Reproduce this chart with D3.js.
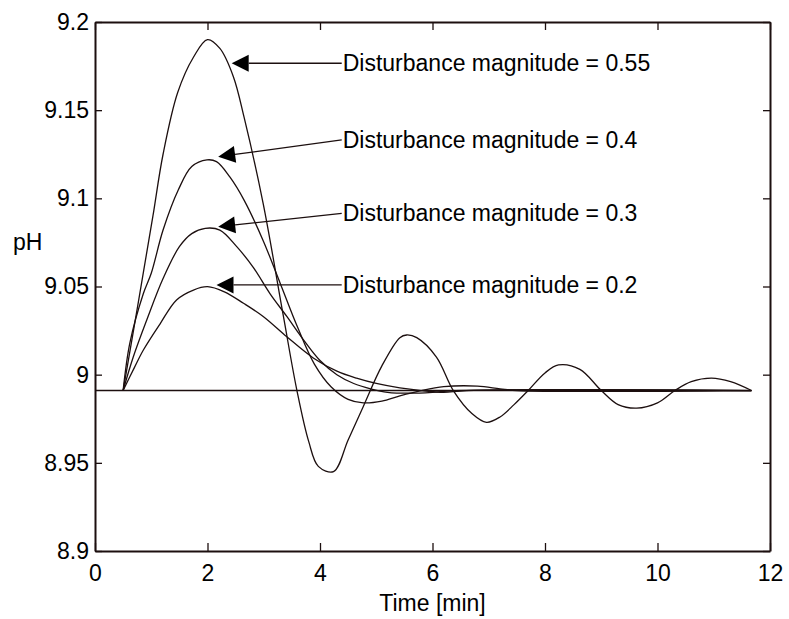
<!DOCTYPE html>
<html>
<head>
<script src="https://cdn.jsdelivr.net/npm/d3@7"></script>
<style>
  body { margin: 0; background: #fff; }
  text { font-family: "Liberation Sans", Arial, sans-serif; }
</style>
</head>
<body>
<div id="chart"></div>
<script>
// pH response for four disturbance magnitudes
var t055  = [0.5, 0.7, 0.86, 1.03, 1.21, 1.47, 1.75, 2.0, 2.22, 2.46, 2.65, 2.99, 3.35, 3.59, 3.8, 3.97, 4.24, 4.5, 4.77, 5.1, 5.42, 5.54, 5.72, 6.07, 6.37, 6.7, 6.96, 7.2, 7.45, 7.7, 8.0, 8.24, 8.62, 9.0, 9.3, 9.63, 10.0, 10.31, 10.6, 10.96, 11.3, 11.67];
var ph055 = [8.991, 9.028, 9.058, 9.09, 9.125, 9.16, 9.18, 9.19, 9.185, 9.169, 9.146, 9.097, 9.033, 8.991, 8.962, 8.948, 8.945, 8.963, 8.982, 9.005, 9.021, 9.0225, 9.021, 9.01, 8.991, 8.978, 8.973, 8.976, 8.983, 8.991, 9.001, 9.0055, 9.003, 8.991, 8.983, 8.981, 8.984, 8.991, 8.996, 8.998, 8.996, 8.991];

var t04  = [0.5, 0.62, 0.86, 1.0, 1.21, 1.48, 1.72, 1.99, 2.16, 2.4, 2.65, 2.99, 3.29, 3.6, 3.9, 4.2, 4.5, 4.77, 5.1, 5.42, 5.8, 6.2, 6.8, 7.2, 7.5, 11.67];
var ph04 = [8.991, 9.018, 9.046, 9.0575, 9.082, 9.1047, 9.118, 9.1218, 9.1208, 9.112, 9.099, 9.076, 9.052, 9.027, 9.006, 8.993, 8.986, 8.984, 8.985, 8.988, 8.991, 8.9932, 8.9935, 8.992, 8.991, 8.991];

var t03  = [0.5, 0.68, 0.92, 1.21, 1.5, 1.72, 1.96, 2.22, 2.52, 2.81, 3.11, 3.41, 3.7, 4.0, 4.3, 4.6, 4.9, 5.2, 5.6, 6.0, 6.4, 11.67];
var ph03 = [8.991, 9.01, 9.031, 9.0545, 9.0726, 9.08, 9.083, 9.082, 9.0726, 9.061, 9.046, 9.033, 9.02, 9.008, 9.0, 8.995, 8.992, 8.990, 8.9895, 8.990, 8.991, 8.991];

var t02  = [0.5, 0.7, 0.86, 1.16, 1.45, 1.75, 2.0, 2.3, 2.64, 2.99, 3.41, 3.88, 4.3, 4.65, 5.0, 5.42, 5.8, 6.2, 6.6, 11.67];
var ph02 = [8.991, 9.004, 9.014, 9.029, 9.0424, 9.048, 9.0499, 9.047, 9.0405, 9.033, 9.0215, 9.0095, 9.002, 8.998, 8.995, 8.9925, 8.991, 8.990, 8.991, 8.991];

var baseT  = [0, 11.67];
var basePH = [8.991, 8.991];

// annotations: arrow tip (t, pH), text start (t, pH)
var labels   = ["Disturbance magnitude = 0.55", "Disturbance magnitude = 0.4", "Disturbance magnitude = 0.3", "Disturbance magnitude = 0.2"];
var tipT     = [2.43, 2.19, 2.19, 2.16];
var tipPH    = [9.1766, 9.1236, 9.0839, 9.0509];
var textT    = [4.386, 4.386, 4.386, 4.386];
var textPH   = [9.1766, 9.1331, 9.0915, 9.0509];

var xTicks = [0, 2, 4, 6, 8, 10, 12];
var yTicks = [8.9, 8.95, 9, 9.05, 9.1, 9.15, 9.2];

var W = 789, H = 619;
var margin = {left: 95, right: 19, top: 22, bottom: 68};
var iw = W - margin.left - margin.right, ih = H - margin.top - margin.bottom;
var ink = "#1c0f0f";

var svg = d3.select("#chart").append("svg")
    .attr("width", W).attr("height", H);

var x = d3.scaleLinear().domain([0, 12]).range([margin.left, margin.left + iw]);
var y = d3.scaleLinear().domain([8.9, 9.2]).range([margin.top + ih, margin.top]);

var fmtY = function(d) { return d3.format("")(+d.toFixed(2)); };

function styleAxis(g) {
    g.selectAll("path.domain").attr("stroke", ink).attr("stroke-width", 2);
    g.selectAll(".tick line").attr("stroke", ink).attr("stroke-width", 1.3);
    g.selectAll("text").attr("fill", "#000").style("font-size", "23px");
}

svg.append("g").attr("transform", "translate(0," + (margin.top + ih) + ")")
    .call(d3.axisBottom(x).tickValues(xTicks).tickSizeInner(-8).tickSizeOuter(0).tickPadding(14))
    .call(styleAxis);
svg.append("g").attr("transform", "translate(0," + margin.top + ")")
    .call(d3.axisTop(x).tickValues(xTicks).tickSizeInner(-8).tickSizeOuter(0).tickFormat(""))
    .call(styleAxis);
svg.append("g").attr("transform", "translate(" + margin.left + ",0)")
    .call(d3.axisLeft(y).tickValues(yTicks).tickSizeInner(-7).tickSizeOuter(0).tickPadding(6).tickFormat(fmtY))
    .call(styleAxis);
svg.append("g").attr("transform", "translate(" + (margin.left + iw) + ",0)")
    .call(d3.axisRight(y).tickValues(yTicks).tickSizeInner(-7).tickSizeOuter(0).tickFormat(""))
    .call(styleAxis);

// axis labels
svg.append("text").attr("x", x(6)).attr("y", 611)
    .attr("text-anchor", "middle").style("font-size", "23px").text("Time [min]");
svg.append("text").attr("x", 13).attr("y", 250)
    .style("font-size", "23px").text("pH");

var line = d3.line()
    .curve(d3.curveCatmullRom.alpha(0.5))
    .x(function(d) { return x(d[0]); })
    .y(function(d) { return y(d[1]); });

var series = [[baseT, basePH], [t02, ph02], [t03, ph03], [t04, ph04], [t055, ph055]];
series.forEach(function(s, i) {
    var pts = s[0].map(function(t, j) { return [t, s[1][j]]; });
    svg.append("path").datum(pts)
        .attr("d", line)
        .attr("fill", "none")
        .attr("stroke", ink)
        .attr("stroke-width", i === 0 ? 1.6 : 1.3)
        .attr("stroke-linejoin", "round");
});

// arrows + text
labels.forEach(function(lab, i) {
    var tx = x(tipT[i]), ty = y(tipPH[i]);
    var sx = x(textT[i]), sy = y(textPH[i]);
    var dx = sx - tx, dy = sy - ty, len = Math.sqrt(dx * dx + dy * dy);
    var ux = dx / len, uy = dy / len;
    var hl = 17, hw = 8.5;
    var bx = tx + ux * hl, by = ty + uy * hl;
    svg.append("line")
        .attr("x1", bx).attr("y1", by).attr("x2", sx).attr("y2", sy)
        .attr("stroke", ink).attr("stroke-width", 1.3);
    svg.append("path")
        .attr("d", "M" + tx + "," + ty +
                   "L" + (bx - uy * hw) + "," + (by + ux * hw) +
                   "L" + (bx + uy * hw) + "," + (by - ux * hw) + "Z")
        .attr("fill", "#000");
    svg.append("text")
        .attr("x", sx + 1).attr("y", sy)
        .attr("dy", "0.35em")
        .style("font-size", "23px")
        .text(lab);
});
</script>
</body>
</html>
